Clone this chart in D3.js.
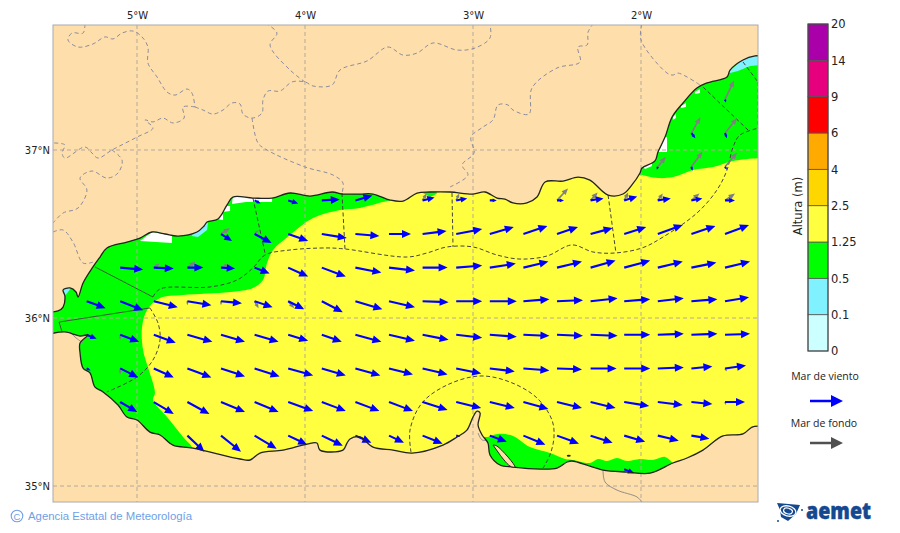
<!DOCTYPE html>
<html lang="es">
<head>
<meta charset="UTF-8" />
<title>Altura de ola - Alboran</title>
<script src="https://d3js.org/d3.v7.min.js"></script>
<style>
  html, body { margin: 0; padding: 0; background: #fff; }
  svg { display: block; }
  text { font-family: "DejaVu Sans", sans-serif; }
</style>
</head>
<body>
<script>
const _ = null;

// ticks
const lonTicks = [-5, -4, -3, -2];
const latTicks = [37, 36, 35];

// colour bar
const alturaLabels = ["0", "0.1", "0.5", "1.25", "2.5", "4", "6", "9", "14", "20"];
const alturaColors = ["#ccffff", "#80f2ff", "#00ff00", "#ffff40", "#ffd700", "#ffaa00", "#ff0000", "#e6007e", "#aa00aa"];

// coast, lon/lat, west to east along the north shore
const costaNorte = [[-5.52,36.036],[-5.47,36.042],[-5.44,36.065],[-5.429,36.131],[-5.44,36.167],[-5.399,36.179],[-5.363,36.155],[-5.351,36.125],[-5.321,36.208],[-5.262,36.304],[-5.22,36.363],[-5.179,36.417],[-5.06,36.452],[-4.982,36.476],[-4.911,36.512],[-4.833,36.5],[-4.756,36.488],[-4.643,36.512],[-4.601,36.548],[-4.583,36.571],[-4.518,36.589],[-4.464,36.673],[-4.429,36.72],[-4.31,36.714],[-4.196,36.714],[-4.089,36.744],[-3.97,36.726],[-3.839,36.75],[-3.774,36.738],[-3.673,36.738],[-3.595,36.738],[-3.494,36.702],[-3.417,36.696],[-3.333,36.744],[-3.256,36.75],[-3.137,36.75],[-3.0,36.738],[-2.929,36.75],[-2.857,36.714],[-2.81,36.708],[-2.762,36.685],[-2.679,36.685],[-2.619,36.72],[-2.571,36.81],[-2.464,36.815],[-2.375,36.839],[-2.304,36.821],[-2.196,36.732],[-2.107,36.738],[-2.054,36.792],[-2.006,36.863],[-1.994,36.893],[-1.917,36.935],[-1.899,36.988],[-1.857,37.077],[-1.815,37.196],[-1.75,37.28],[-1.667,37.369],[-1.607,37.399],[-1.488,37.435],[-1.47,37.476],[-1.393,37.536],[-1.321,37.56],[-1.292,37.56]];
// coast, east to west along the south shore
const costaSur = [[-1.292,35.357],[-1.339,35.351],[-1.393,35.31],[-1.512,35.298],[-1.631,35.214],[-1.726,35.167],[-1.81,35.137],[-1.946,35.077],[-2.083,35.083],[-2.226,35.095],[-2.304,35.119],[-2.411,35.149],[-2.44,35.143],[-2.5,35.107],[-2.601,35.101],[-2.762,35.113],[-2.839,35.125],[-2.899,35.185],[-2.911,35.256],[-2.946,35.304],[-2.97,35.363],[-2.958,35.435],[-2.976,35.446],[-3.0,35.411],[-3.036,35.333],[-3.095,35.292],[-3.179,35.244],[-3.363,35.196],[-3.476,35.214],[-3.595,35.232],[-3.673,35.292],[-3.732,35.28],[-3.75,35.256],[-3.774,35.214],[-3.911,35.214],[-3.929,35.256],[-3.988,35.25],[-4.131,35.214],[-4.268,35.196],[-4.327,35.155],[-4.387,35.161],[-4.667,35.226],[-4.786,35.244],[-4.863,35.304],[-4.923,35.321],[-5.0,35.393],[-5.06,35.411],[-5.113,35.482],[-5.202,35.56],[-5.25,35.589],[-5.28,35.673],[-5.321,35.702],[-5.339,35.792],[-5.339,35.851],[-5.292,35.899],[-5.339,35.893],[-5.429,35.917],[-5.52,35.905]];
const flecha = [[-2.881,35.244],[-2.857,35.238],[-2.75,35.113],[-2.78,35.119],[-2.839,35.185]];

// wave height areas, all clipped to the sea
const verdeOeste = [[-3.482,36.702],[-3.536,36.69],[-3.673,36.655],[-3.792,36.643],[-3.952,36.595],[-4.089,36.494],[-4.19,36.405],[-4.226,36.327],[-4.25,36.226],[-4.31,36.179],[-4.446,36.155],[-4.726,36.137],[-4.863,36.119],[-4.94,36.048],[-4.97,35.946],[-4.964,35.81],[-4.935,35.708],[-4.893,35.554],[-4.905,35.512],[-4.821,35.411],[-4.726,35.292],[-4.667,35.22],[-4.655,35.03],[-5.6,35.03],[-5.6,36.9],[-3.482,36.9]];
const verdeNorEste = [[-1.994,36.851],[-1.899,36.833],[-1.81,36.839],[-1.69,36.881],[-1.571,36.899],[-1.452,36.935],[-1.292,36.952],[-1.25,36.95],[-1.25,37.7],[-2.05,37.7],[-2.05,36.85]];
const verdeSur = [[-2.911,35.292],[-2.851,35.31],[-2.762,35.298],[-2.661,35.232],[-2.542,35.196],[-2.452,35.161],[-2.405,35.155],[-2.304,35.137],[-2.256,35.161],[-2.202,35.149],[-2.143,35.167],[-2.083,35.149],[-2.006,35.161],[-1.929,35.155],[-1.857,35.173],[-1.81,35.137],[-1.77,35.09],[-1.77,34.98],[-2.958,34.98],[-2.958,35.292]];
const verdeCentro = [[-3.298,36.744],[-3.256,36.756],[-3.214,36.744],[-3.256,36.72]];
const celeste = [
  [[-4.667,36.518],[-4.601,36.554],[-4.577,36.571],[-4.583,36.524],[-4.637,36.482],[-4.673,36.488]],
  [[-5.452,36.155],[-5.423,36.185],[-5.393,36.179],[-5.429,36.131]],
  [[-1.482,37.464],[-1.381,37.548],[-1.292,37.571],[-1.292,37.506],[-1.351,37.5],[-1.423,37.47],[-1.47,37.458]]
];
const sinDato = [
  [[-4.982,36.458],[-4.911,36.512],[-4.792,36.494],[-4.792,36.446]],
  [[-4.429,36.73],[-4.196,36.73],[-4.196,36.69],[-4.351,36.69],[-4.435,36.679]],
  [[-4.476,36.667],[-4.446,36.667],[-4.446,36.637],[-4.494,36.631]],
  [[-4.53,36.589],[-4.488,36.619],[-4.488,36.583]],
  [[-1.887,37.006],[-1.857,37.077],[-1.845,37.077],[-1.845,36.988],[-1.899,36.988]],
  [[-1.988,36.899],[-1.935,36.929],[-1.935,36.905],[-1.976,36.887]],
  [[-1.679,37.345],[-1.649,37.363],[-1.649,37.339],[-1.679,37.333]],
  [[-1.762,37.262],[-1.732,37.28],[-1.732,37.256],[-1.762,37.25]],
  [[-1.81,37.196],[-1.792,37.214],[-1.792,37.19],[-1.81,37.179]]
];

// province borders on land
const provincias = [
  [[-5.31,37.75],[-5.321,37.696],[-5.387,37.696],[-5.411,37.655],[-5.351,37.613],[-5.262,37.631],[-5.19,37.673],[-5.143,37.661],[-5.089,37.696],[-5.024,37.708],[-4.97,37.673],[-4.935,37.613],[-4.935,37.518],[-4.881,37.435],[-4.821,37.345],[-4.774,37.327],[-4.702,37.363],[-4.673,37.339],[-4.655,37.256]],
  [[-4.655,37.256],[-4.726,37.256],[-4.72,37.19],[-4.786,37.161],[-4.845,37.19],[-4.905,37.167],[-4.952,37.179],[-4.905,37.131],[-5,37.077],[-5.149,37.0],[-5.232,36.952],[-5.268,36.982],[-5.31,37.018],[-5.429,36.952],[-5.446,36.982],[-5.429,37.03],[-5.5,37.042]],
  [[-5.149,37.0],[-5.089,36.94],[-5.113,36.863],[-5.179,36.833],[-5.268,36.875],[-5.339,36.833],[-5.298,36.762],[-5.351,36.655],[-5.44,36.625],[-5.5,36.565]],
  [[-5.5,36.512],[-5.44,36.524],[-5.381,36.452],[-5.321,36.327],[-5.262,36.333]],
  [[-4.655,37.256],[-4.607,37.238],[-4.548,37.214],[-4.488,37.238],[-4.435,37.28],[-4.387,37.274],[-4.369,37.214],[-4.315,37.19],[-4.256,37.22],[-4.25,37.298],[-4.22,37.351],[-4.149,37.351],[-4.077,37.405],[-4,37.405],[-3.952,37.381],[-3.839,37.387],[-3.792,37.476],[-3.631,37.53],[-3.506,37.613],[-3.417,37.565],[-3.333,37.577],[-3.238,37.637],[-3.095,37.595],[-2.988,37.607],[-2.899,37.667],[-2.899,37.75]],
  [[-4.315,37.19],[-4.28,37.042],[-4.226,37.0],[-4,36.899],[-3.833,36.851],[-3.774,36.804],[-3.78,36.744]],
  [[-4,37.405],[-4.089,37.476],[-4.208,37.625],[-4.167,37.696],[-4.226,37.75]],
  [[-3.137,36.78],[-3.03,36.851],[-3.065,36.911],[-2.994,36.982],[-3.012,37.077],[-2.94,37.137],[-2.881,37.179],[-2.851,37.268],[-2.792,37.268],[-2.762,37.238],[-2.667,37.214],[-2.649,37.369],[-2.5,37.488],[-2.363,37.524],[-2.375,37.613],[-2.321,37.625],[-2.315,37.702],[-2.286,37.75]],
  [[-1.994,37.75],[-2,37.655],[-1.845,37.458],[-1.81,37.446],[-1.78,37.458],[-1.649,37.387]]
];
const fronteras = [
  [[-2.226,35.095],[-2.214,35.024],[-2.143,34.976],[-2.024,34.935],[-1.994,34.905]],
  [[-5.399,35.917],[-5.369,35.887],[-5.321,35.851]],
  [[-2.97,35.315],[-2.946,35.274],[-2.917,35.274]]
];

// forecast zones at sea
const zonasSolidas = [
  [[-5.25,36.304],[-4.905,36.125]],
  [[-4.923,36.06],[-5.464,35.976],[-5.446,35.917]]
];
const zonasDiscontinuas = [
  [[-4.905,36.125],[-4.863,36.173],[-4.565,36.185],[-4.405,36.226],[-4.31,36.298],[-4.238,36.375],[-4.089,36.405],[-3.869,36.417],[-3.762,36.411],[-3.393,36.363],[-3.274,36.387],[-3.155,36.423],[-3,36.423],[-2.857,36.375],[-2.72,36.351],[-2.56,36.369],[-2.411,36.435],[-2.286,36.393],[-2.155,36.387],[-1.994,36.417],[-1.869,36.482],[-1.667,36.625],[-1.548,36.762],[-1.488,36.881],[-1.452,37.018],[-1.411,37.089],[-1.298,37.131]],
  [[-4.31,36.714],[-4.238,36.387]],
  [[-3.78,36.744],[-3.762,36.411]],
  [[-3.125,36.744],[-3.119,36.423]],
  [[-2.196,36.732],[-2.149,36.387]],
  [[-1.631,37.375],[-1.363,37.119]],
  [[-1.393,37.524],[-1.304,37.405]],
  [[-1.304,37.405],[-1.304,37.131]]
];
const zonasCurvas = [
  [[-4.923,36.06],[-4.875,35.97],[-4.863,35.869],[-4.905,35.75],[-5,35.649],[-5.179,35.56]],
  [[-3.369,35.202],[-3.375,35.333],[-3.304,35.494],[-3.155,35.601],[-2.958,35.655],[-2.78,35.619],[-2.619,35.524],[-2.53,35.393],[-2.518,35.292],[-2.542,35.185],[-2.583,35.107]]
];

// wave arrows, grid of model points, components in metres
const gridLons = [-5.3,-5.1,-4.9,-4.7,-4.5,-4.3,-4.1,-3.9,-3.7,-3.5,-3.3,-3.1,-2.9,-2.7,-2.5,-2.3,-2.1,-1.9,-1.7,-1.5];
const gridLats = [37.3,37.1,36.9,36.7,36.5,36.3,36.1,35.9,35.7,35.5,35.3,35.1];
const vientoU = [
  [_,_,_,_,_,_,_,_,_,_,_,_,_,_,_,_,_,_,_,.05],
  [_,_,_,_,_,_,_,_,_,_,_,_,_,_,_,_,_,_,.2,.1],
  [_,_,_,_,_,_,_,_,_,_,_,_,_,_,_,_,_,-.05,.05,.1],
  [_,_,_,_,_,.3,.5,.9,.85,_,.6,.55,.35,_,.35,.65,.65,.65,.55,.5],
  [_,_,_,_,.55,.85,1,1.25,1.2,1.1,1.2,1.3,1.2,1.2,1.05,1.1,1.1,1.25,1.2,1.2],
  [_,1.15,1,.8,.7,.75,1,1.2,1.3,1.3,1.25,1.3,1.3,1.25,1.25,1.25,1.3,1.25,1.25,1.25],
  [.95,1.15,1.2,1.2,1.05,.9,.8,1.05,1.35,1.3,1.3,1.3,1.35,1.3,1.3,1.35,1.3,1.3,1.3,1.2],
  [.5,.95,1.1,1.25,1.2,1.2,1,1,1.3,1.3,1.3,1.3,1.35,1.3,1.3,1.35,1.3,1.3,1.3,1.25],
  [.2,.9,1,1.2,1.2,1.25,1.25,1.2,1.25,1.2,1.25,1.25,1.25,1.3,1.25,1.3,1.3,1.3,1.05,1.05],
  [_,.85,1,1.1,1.2,1.2,1.25,1.2,1.2,1.2,1.25,1.25,1.25,1.25,1.25,1.25,1.25,1.25,1.05,1],
  [_,_,_,.85,1,1.1,.95,1.05,.8,.75,1,.2,.85,1.1,1.1,1.1,1.05,1.05,.9,_],
  [_,_,_,_,_,_,_,_,_,_,_,_,_,_,_,_,.5,_,_,_]
];
const vientoV = [
  [_,_,_,_,_,_,_,_,_,_,_,_,_,_,_,_,_,_,_,-.15],
  [_,_,_,_,_,_,_,_,_,_,_,_,_,_,_,_,_,_,-.25,-.25],
  [_,_,_,_,_,_,_,_,_,_,_,_,_,_,_,_,_,-.15,-.2,-.15],
  [_,_,_,_,_,-.15,-.15,.05,.25,_,.15,.1,0,_,0,.1,.2,.1,.1,0],
  [_,_,_,_,-.35,-.45,-.35,-.2,-.1,0,.15,.25,.35,.4,.35,.3,.35,.45,.4,.45],
  [_,-.1,-.05,0,-.05,-.3,-.45,-.45,-.25,-.15,0,.1,.2,.3,.3,.35,.35,.3,.25,.3],
  [-.35,-.45,-.3,-.2,-.1,-.3,-.4,-.55,-.4,-.3,-.05,0,0,.1,.05,.15,.1,.15,.1,.2],
  [-.2,-.35,-.4,-.35,-.35,-.35,-.3,-.35,-.35,-.3,-.25,-.15,-.1,-.05,-.05,-.05,0,.05,.05,.05],
  [-.1,-.45,-.45,-.45,-.4,-.4,-.35,-.35,-.35,-.3,-.3,-.25,-.15,-.1,-.05,0,0,.05,.1,.15],
  [_,-.5,-.6,-.6,-.5,-.5,-.45,-.45,-.45,-.45,-.4,-.3,-.3,-.35,-.3,-.3,-.2,-.15,-.1,0],
  [_,_,_,-.8,-.8,-.65,-.45,-.5,-.35,-.35,-.4,-.05,-.3,-.45,-.4,-.35,-.3,-.25,-.15,_],
  [_,_,_,_,_,_,_,_,_,_,_,_,_,_,_,_,-.2,_,_,_]
];
const fondoU = [
  [_,_,_,_,_,_,_,_,_,_,_,_,_,_,_,_,_,_,_,.45],
  [_,_,_,_,_,_,_,_,_,_,_,_,_,_,_,_,_,_,.45,.6],
  [_,_,_,_,_,_,_,_,_,_,_,_,_,_,_,_,_,.4,.55,.6],
  [_,_,_,_,_,_,_,_,_,_,.2,.15,_,_,.55,.35,.2,.25,.4,.5],
  [_,_,_,_,.45,.2,_,_,_,_,_,_,_,_,_,_,_,_,_,_],
  [_,_,.3,.4,.45,_,_,_,_,_,_,_,_,_,_,_,_,_,_,_],
  [_,_,_,0,0,.2,.3,_,_,_,_,_,_,_,_,_,_,_,_,_],
  [_,0,_,_,_,_,_,_,_,_,_,_,_,_,_,_,_,_,_,_],
  [_,0,_,_,_,_,_,_,_,_,_,_,_,_,_,_,_,_,_,.1],
  [_,0,_,_,_,_,_,_,_,_,_,_,_,_,_,_,_,_,_,.05],
  [_,_,_,_,_,_,_,_,_,_,_,_,_,_,_,_,_,_,_,_],
  [_,_,_,_,_,_,_,_,_,_,_,_,_,_,_,_,_,_,_,_]
];
const fondoV = [
  [_,_,_,_,_,_,_,_,_,_,_,_,_,_,_,_,_,_,_,.95],
  [_,_,_,_,_,_,_,_,_,_,_,_,_,_,_,_,_,_,.8,.75],
  [_,_,_,_,_,_,_,_,_,_,_,_,_,_,_,_,_,.5,.75,.7],
  [_,_,_,_,_,_,_,_,_,_,.35,.35,_,_,.6,.4,.4,.35,.35,.35],
  [_,_,_,_,.3,.2,_,_,_,_,_,_,_,_,_,_,_,_,_,_],
  [_,_,.2,.3,.15,_,_,_,_,_,_,_,_,_,_,_,_,_,_,_],
  [_,_,_,-.2,-.2,-.35,-.35,_,_,_,_,_,_,_,_,_,_,_,_,_],
  [_,-.25,_,_,_,_,_,_,_,_,_,_,_,_,_,_,_,_,_,_],
  [_,-.3,_,_,_,_,_,_,_,_,_,_,_,_,_,_,_,_,_,-.15],
  [_,-.15,_,_,_,_,_,_,_,_,_,_,_,_,_,_,_,_,_,-.15],
  [_,_,_,_,_,_,_,_,_,_,_,_,_,_,_,_,_,_,_,_],
  [_,_,_,_,_,_,_,_,_,_,_,_,_,_,_,_,_,_,_,_]
];

var w = 900;
var h = 533;
var mapLeft = 53, mapRight = 758, mapTop = 25, mapBottom = 502;
var landColor = "#fedfab";

var svg = d3.select("body").append("svg").attr("width", w).attr("height", h);

// 168 px per degree both ways
var x = d3.scaleLinear().domain([-5.5, -1.3036]).range([mapLeft, mapRight]);
var y = d3.scaleLinear().domain([34.905, 37.744]).range([mapBottom, mapTop]);
var alturaM = d3.scaleLinear().domain([0, 1]).range([0, 20]);

var line = d3.line().x(d => x(d[0])).y(d => y(d[1]));
var smooth = d3.line().x(d => x(d[0])).y(d => y(d[1])).curve(d3.curveCatmullRom);
var area = function (pts) { return line(pts) + "Z"; };
var smoothArea = function (pts) { return smooth(pts) + "Z"; };

var mar = costaNorte.concat(costaSur);

var defs = svg.append("defs");
defs.append("clipPath").attr("id", "clipMap").append("rect")
    .attr("x", mapLeft).attr("y", mapTop)
    .attr("width", mapRight - mapLeft).attr("height", mapBottom - mapTop);
defs.append("clipPath").attr("id", "clipMar").append("path").attr("d", smoothArea(mar));

var map = svg.append("g").attr("clip-path", "url(#clipMap)");
map.append("rect").attr("x", mapLeft).attr("y", mapTop)
    .attr("width", mapRight - mapLeft).attr("height", mapBottom - mapTop)
    .attr("fill", landColor);

// sea fill and the height areas
map.append("path").attr("d", smoothArea(mar)).attr("fill", alturaColors[3]);
var campos = map.append("g").attr("clip-path", "url(#clipMar)");
[verdeOeste, verdeNorEste, verdeSur, verdeCentro].forEach(function (p) {
    campos.append("path").attr("d", smoothArea(p)).attr("fill", alturaColors[2]);
});
campos.selectAll(".celeste").data(celeste).enter().append("path")
    .attr("class", "celeste").attr("d", area).attr("fill", alturaColors[1]);
campos.selectAll(".nodata").data(sinDato).enter().append("path")
    .attr("class", "nodata").attr("d", area).attr("fill", "#fff");

// graticule
var gridColor = "#b5a998";
map.selectAll(".gridV").data(lonTicks).enter().append("line").attr("class", "gridV")
    .attr("x1", d => x(d)).attr("x2", d => x(d)).attr("y1", mapTop).attr("y2", mapBottom)
    .attr("stroke", gridColor).attr("stroke-width", 1).attr("stroke-dasharray", "4,3");
map.selectAll(".gridH").data(latTicks).enter().append("line").attr("class", "gridH")
    .attr("y1", d => y(d)).attr("y2", d => y(d)).attr("x1", mapLeft).attr("x2", mapRight)
    .attr("stroke", gridColor).attr("stroke-width", 1).attr("stroke-dasharray", "4,3");

// land borders
map.selectAll(".prov").data(provincias).enter().append("path").attr("class", "prov")
    .attr("d", smooth).attr("fill", "none").attr("stroke", "#8c8c9c")
    .attr("stroke-width", 1).attr("stroke-dasharray", "4,3");
map.selectAll(".front").data(fronteras).enter().append("path").attr("class", "front")
    .attr("d", smooth).attr("fill", "none").attr("stroke", "#858585").attr("stroke-width", 0.9);

// zones
map.selectAll(".zonaS").data(zonasSolidas).enter().append("path").attr("class", "zonaS")
    .attr("d", line).attr("fill", "none").attr("stroke", "#444").attr("stroke-width", 0.9);
map.selectAll(".zonaD").data(zonasDiscontinuas).enter().append("path").attr("class", "zonaD")
    .attr("d", smooth).attr("fill", "none").attr("stroke", "#444").attr("stroke-width", 1)
    .attr("stroke-dasharray", "4,2.5");
map.selectAll(".zonaC").data(zonasCurvas).enter().append("path").attr("class", "zonaC")
    .attr("d", smooth).attr("fill", "none").attr("stroke", "#444").attr("stroke-width", 1)
    .attr("stroke-dasharray", "4,2.5");

// arrow as one outline: shaft then head
function arrowPath(x0, y0, x1, y1, headLen, headWid, shaft) {
    var len = Math.hypot(x1 - x0, y1 - y0);
    if (!len) return "";
    var k = Math.min(1, len / (headLen * 1.7));
    var hl = headLen * k, hw = headWid * k;
    var ux = (x1 - x0) / len, uy = (y1 - y0) / len, nx = -uy, ny = ux;
    var bx = x1 - ux * hl, by = y1 - uy * hl;
    var pts = [
        [x0 + nx * shaft / 2, y0 + ny * shaft / 2],
        [bx + nx * shaft / 2, by + ny * shaft / 2],
        [bx + nx * hw / 2, by + ny * hw / 2],
        [x1, y1],
        [bx - nx * hw / 2, by - ny * hw / 2],
        [bx - nx * shaft / 2, by - ny * shaft / 2],
        [x0 - nx * shaft / 2, y0 - ny * shaft / 2]
    ];
    return "M" + pts.join("L") + "Z";
}

function gridVectors(U, V) {
    var out = [];
    gridLats.forEach(function (lat, r) {
        gridLons.forEach(function (lon, c) {
            if (U[r][c] !== null) out.push({ lon: lon, lat: lat, u: U[r][c], v: V[r][c] });
        });
    });
    return out;
}

function drawArrows(cls, data, color, headLen, headWid, shaft) {
    map.selectAll("." + cls).data(data).enter().append("path").attr("class", cls)
        .attr("d", function (d) {
            var x0 = x(d.lon), y0 = y(d.lat);
            return arrowPath(x0, y0, x0 + alturaM(d.u), y0 - alturaM(d.v), headLen, headWid, shaft);
        })
        .attr("fill", color);
}
drawArrows("fondo", gridVectors(fondoU, fondoV), "#808080", 6.5, 5.5, 1.7);
drawArrows("viento", gridVectors(vientoU, vientoV), "#0000ff", 9, 8, 2.1);

// coast on top
map.append("path").attr("d", smooth(costaNorte)).attr("fill", "none").attr("stroke", "#222").attr("stroke-width", 1.3);
map.append("path").attr("d", smooth(costaSur)).attr("fill", "none").attr("stroke", "#222").attr("stroke-width", 1.3);
map.append("path").attr("d", smoothArea(flecha)).attr("fill", landColor).attr("stroke", "#222").attr("stroke-width", 1);
map.append("ellipse").attr("cx", x(-2.43)).attr("cy", y(35.18)).attr("rx", 2).attr("ry", 1).attr("fill", "#222");

svg.append("rect").attr("x", mapLeft).attr("y", mapTop)
    .attr("width", mapRight - mapLeft).attr("height", mapBottom - mapTop)
    .attr("fill", "none").attr("stroke", "#aaa").attr("stroke-width", 1);

// axes
var axisTop = d3.axisTop(x).tickValues(lonTicks).tickSize(0).tickPadding(6)
    .tickFormat(d => Math.abs(d) + "°W");
var axisLeft = d3.axisLeft(y).tickValues(latTicks).tickSize(0).tickPadding(3)
    .tickFormat(d => d + "°N");
var gTop = svg.append("g").attr("transform", "translate(0," + mapTop + ")").call(axisTop);
var gLeft = svg.append("g").attr("transform", "translate(" + mapLeft + ",0)").call(axisLeft);
gTop.select(".domain").remove();
gLeft.select(".domain").remove();
svg.selectAll("g.tick text").attr("font-size", 10).attr("fill", "#222")
    .style("font-family", '"DejaVu Sans", sans-serif');

// colour bar
var barLeft = 808, barWidth = 20;
var barY = d3.scaleLinear().domain([0, alturaColors.length]).range([351, 24]);
svg.selectAll(".seg").data(alturaColors).enter().append("rect").attr("class", "seg")
    .attr("x", barLeft).attr("width", barWidth)
    .attr("y", (d, i) => barY(i + 1)).attr("height", (d, i) => barY(i) - barY(i + 1))
    .attr("fill", d => d).attr("stroke", "#555").attr("stroke-width", 0.8);
svg.append("rect").attr("x", barLeft).attr("y", barY(alturaColors.length))
    .attr("width", barWidth).attr("height", barY(0) - barY(alturaColors.length))
    .attr("fill", "none").attr("stroke", "#444").attr("stroke-width", 1);
var barAxis = d3.axisRight(barY).tickValues(d3.range(alturaLabels.length)).tickSize(0).tickPadding(3)
    .tickFormat(i => alturaLabels[i]);
var gBar = svg.append("g").attr("transform", "translate(" + (barLeft + barWidth) + ",0)").call(barAxis);
gBar.select(".domain").remove();
gBar.selectAll("text").attr("font-size", 11.5).attr("fill", "#222")
    .style("font-family", '"DejaVu Sans", sans-serif');
svg.append("text").attr("transform", "translate(798,206) rotate(-90)")
    .attr("text-anchor", "middle").attr("dominant-baseline", "middle")
    .attr("font-size", 11.5).attr("fill", "#222").text("Altura (m)");

// legend
var legendFont = '"Open Sans", sans-serif';
svg.append("text").attr("x", 825).attr("y", 380).attr("text-anchor", "middle")
    .style("font-family", legendFont).attr("font-size", 10.5).attr("fill", "#222").text("Mar de viento");
svg.append("text").attr("x", 824).attr("y", 427).attr("text-anchor", "middle")
    .style("font-family", legendFont).attr("font-size", 10.5).attr("fill", "#222").text("Mar de fondo");
svg.append("path").attr("d", arrowPath(810, 401, 843, 401, 12, 12, 2.4)).attr("fill", "#0000ff");
svg.append("path").attr("d", arrowPath(810, 443, 843, 443, 12, 12, 2.4)).attr("fill", "#505050");

// credit
svg.append("circle").attr("cx", 17).attr("cy", 516).attr("r", 5.8)
    .attr("fill", "none").attr("stroke", "#6f9fe6").attr("stroke-width", 1.1);
svg.append("text").attr("x", 17).attr("y", 519.5).attr("text-anchor", "middle")
    .style("font-family", '"Liberation Sans", sans-serif').attr("font-size", 9.5).attr("fill", "#6f9fe6").text("C");
svg.append("text").attr("x", 28).attr("y", 520)
    .style("font-family", '"Liberation Sans", sans-serif').attr("font-size", 11.35).attr("fill", "#6f9fe6")
    .text("Agencia Estatal de Meteorología");

// aemet mark: rough peninsula outline with swirl
var logoBlue = "#14488f";
svg.append("path").attr("d", "M777,503L800,505L796,514L788,521L781,517L780,510Z").attr("fill", logoBlue);
[[8, 5, 1.3], [4.5, 2.8, 1.2]].forEach(function (e) {
    svg.append("ellipse").attr("cx", 788).attr("cy", 511).attr("rx", e[0]).attr("ry", e[1])
        .attr("fill", "none").attr("stroke", "#fff").attr("stroke-width", e[2])
        .attr("transform", "rotate(15,788,511)");
});
svg.append("circle").attr("cx", 802).attr("cy", 510).attr("r", 1).attr("fill", logoBlue);
svg.append("circle").attr("cx", 778).attr("cy", 521).attr("r", 1).attr("fill", logoBlue);
svg.append("text").attr("x", 806).attr("y", 519)
    .style("font-family", '"Open Sans", sans-serif').style("font-weight", 800)
    .attr("font-size", 22).attr("textLength", 65).attr("lengthAdjust", "spacingAndGlyphs")
    .attr("fill", logoBlue).attr("stroke", logoBlue).attr("stroke-width", 0.4).text("aemet");
</script>
</body>
</html>
